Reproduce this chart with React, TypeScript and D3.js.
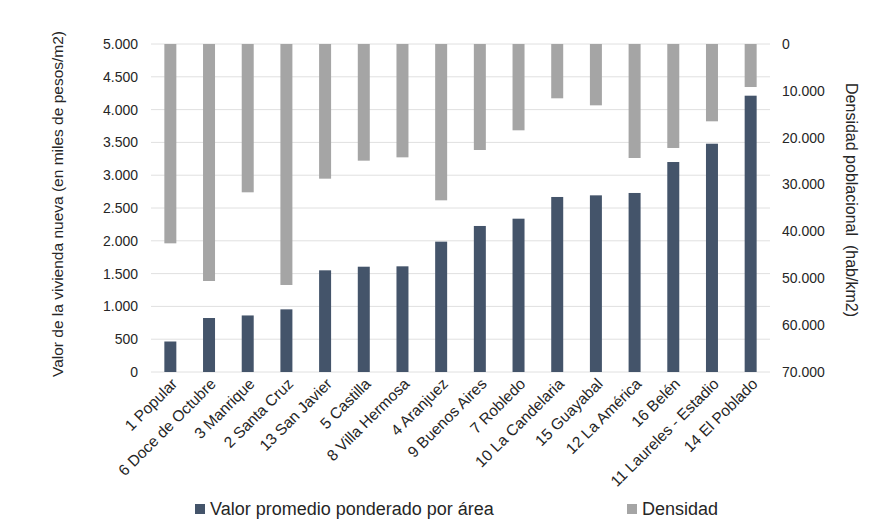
import React from "react";
import * as d3 from "d3";

// Comunas of Medellín, ordered by average value of new housing
const comunas = [
  "1 Popular",
  "6 Doce de Octubre",
  "3 Manrique",
  "2 Santa Cruz",
  "13 San Javier",
  "5 Castilla",
  "8 Villa Hermosa",
  "4 Aranjuez",
  "9 Buenos Aires",
  "7 Robledo",
  "10 La Candelaria",
  "15 Guayabal",
  "12 La América",
  "16 Belén",
  "11 Laureles - Estadio",
  "14 El Poblado",
];

// Average value weighted by area (thousands of pesos per m2)
const valorPromedio = [
  465, 823, 862, 955, 1550, 1605, 1611, 1987, 2226, 2337, 2668, 2693, 2729,
  3201, 3480, 4212,
];

// Population density (inhabitants per km2)
const densidad = [
  42540, 50580, 31650, 51430, 28740, 24900, 24190, 33360, 22620, 18420, 11590,
  13090, 24330, 22190, 16500, 9180,
];

const leftTicks = [0, 500, 1000, 1500, 2000, 2500, 3000, 3500, 4000, 4500, 5000];
const rightTicks = [0, 10000, 20000, 30000, 40000, 50000, 60000, 70000];

const serieValor = "Valor promedio ponderado por área";
const serieDensidad = "Densidad";
const tituloIzq = "Valor de la vivienda nueva (en miles de pesos/m2)";
const tituloDer = "Densidad poblacional  (hab/km2)";

const W = 888;
const H = 520;
const plot = { left: 151, right: 770, top: 44, bottom: 372 };
const BLUE = "#44546A";
const GRAY = "#A5A5A5";
const TEXT = "#262626";
const GRID = "#E0E0E0";
const FONT = "'Liberation Sans', Arial, sans-serif";

const fmt = (v: number) => d3.format(",")(v).replace(/,/g, ".");

export default function App() {
  const x = d3
    .scaleBand<string>()
    .domain(comunas)
    .range([plot.left, plot.right])
    .paddingInner(0.69)
    .paddingOuter(0.345);
  const yL = d3.scaleLinear().domain([0, 5000]).range([plot.bottom, plot.top]);
  const yR = d3.scaleLinear().domain([0, 70000]).range([plot.top, plot.bottom]);
  const bw = x.bandwidth();

  return (
    <svg
      width={W}
      height={H}
      style={{ position: "absolute", left: 0, top: 0, background: "#fff" }}
      fontFamily={FONT}
    >
      <rect width={W} height={H} fill="#fff" />
      {/* gridlines */}
      {leftTicks.map((t) => (
        <line
          key={"g" + t}
          x1={plot.left}
          x2={plot.right}
          y1={yL(t)}
          y2={yL(t)}
          stroke={GRID}
          strokeWidth={1}
        />
      ))}
      {/* density bars hanging from the top */}
      {comunas.map((c, i) => (
        <rect
          key={"d" + c}
          x={x(c)}
          y={yR(0)}
          width={bw}
          height={yR(densidad[i]) - yR(0)}
          fill={GRAY}
        />
      ))}
      {/* value bars rising from the bottom */}
      {comunas.map((c, i) => (
        <rect
          key={"v" + c}
          x={x(c)}
          y={yL(valorPromedio[i])}
          width={bw}
          height={yL(0) - yL(valorPromedio[i])}
          fill={BLUE}
        />
      ))}
      {/* left axis labels */}
      {leftTicks.map((t) => (
        <text
          key={"l" + t}
          x={138}
          y={yL(t)}
          dy="0.35em"
          textAnchor="end"
          fontSize={14}
          fill={TEXT}
        >
          {fmt(t)}
        </text>
      ))}
      {/* right axis labels */}
      {rightTicks.map((t) => (
        <text
          key={"r" + t}
          x={782}
          y={yR(t)}
          dy="0.35em"
          textAnchor="start"
          fontSize={14}
          fill={TEXT}
        >
          {fmt(t)}
        </text>
      ))}
      {/* category labels */}
      {comunas.map((c) => {
        const cx = (x(c) as number) + bw / 2 + 4;
        const cy = plot.bottom + 9;
        return (
          <text
            key={"c" + c}
            transform={`translate(${cx},${cy}) rotate(-45)`}
            textAnchor="end"
            dy="0.35em"
            fontSize={15.5}
            fill={TEXT}
          >
            {c}
          </text>
        );
      })}
      {/* axis titles */}
      <text
        transform={`translate(58,${(plot.top + plot.bottom) / 2 - 4}) rotate(-90)`}
        textAnchor="middle"
        dy="0.35em"
        fontSize={15.5}
        fill={TEXT}
      >
        {tituloIzq}
      </text>
      <text
        transform={`translate(852,${(plot.top + plot.bottom) / 2 - 8}) rotate(90)`}
        textAnchor="middle"
        dy="0.35em"
        fontSize={16}
        fill={TEXT}
        style={{ whiteSpace: "pre" }}
      >
        {tituloDer}
      </text>
      {/* legend */}
      <rect x={195} y={504} width={10} height={10} fill={BLUE} />
      <text x={210} y={515} fontSize={18} fill={TEXT}>
        {serieValor}
      </text>
      <rect x={627} y={504} width={10} height={10} fill={GRAY} />
      <text x={642} y={515} fontSize={18} fill={TEXT}>
        {serieDensidad}
      </text>
    </svg>
  );
}
